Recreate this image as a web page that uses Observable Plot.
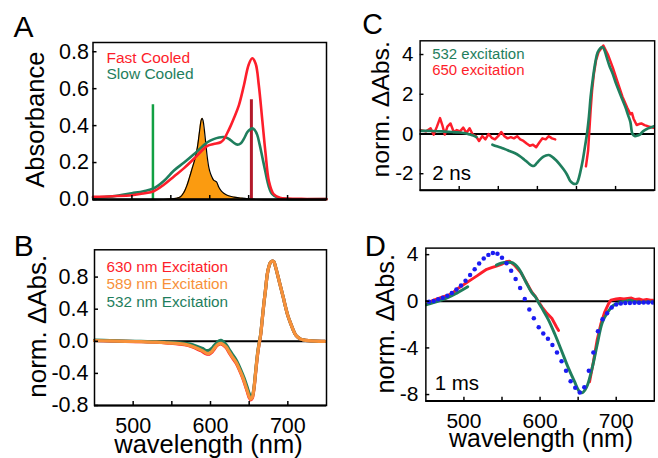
<!DOCTYPE html>
<html>
<head>
<meta charset="utf-8">
<script src="https://cdn.jsdelivr.net/npm/d3@7"></script>
<script src="https://cdn.jsdelivr.net/npm/@observablehq/plot@0.6"></script>
<style>
html,body{margin:0;padding:0;background:#fff;overflow:hidden;width:658px;height:458px;}
#wrap{position:relative;width:658px;height:458px;overflow:hidden;background:#fff;}
.panel{position:absolute;}
</style>
</head>
<body>
<div id="wrap"></div>
<script>
// ---------- data ----------
const xDomain = [450, 750];
const xTickLabels = [500, 600, 700];
const xMinorTicks = [500, 550, 600, 650, 700];

// Panel A
const fastWl  = [450,475,500,515,528,541,554,567,580,590,597,605,614,618,622.5,627,631,637.4,644,650,654.6,659,663,667.5,671.7,676,682,690,700,725,750];
const fastAbs = [0.015,0.018,0.023,0.033,0.045,0.08,0.125,0.17,0.222,0.265,0.29,0.3,0.31,0.325,0.36,0.4,0.44,0.51,0.62,0.73,0.765,0.735,0.62,0.43,0.25,0.10,0.03,0.01,0.005,0.003,0.002];
const slowWl  = [450,475,500,515,528,541,554,567,580,590,597,605,612,618,624,630,635.6,640,644,648.4,652,655,658,661,664,667.5,671,674,677,680,687,700,750];
const slowAbs = [0.01,0.017,0.034,0.045,0.06,0.1,0.157,0.2,0.246,0.285,0.31,0.327,0.336,0.338,0.33,0.31,0.297,0.305,0.33,0.365,0.38,0.385,0.375,0.35,0.3,0.23,0.16,0.1,0.055,0.03,0.01,0.003,0.002];
const emissionWl = [450,540,550,556,562.5,567,571,574,577.5,581,584,586,587.5,589,590.3,591.5,593,595,596.8,599,601,605,608.7,611.7,615,618,624,631,640,648,655,660,750];
const emission   = [0,0,0.003,0.006,0.015,0.04,0.08,0.12,0.17,0.22,0.28,0.34,0.39,0.43,0.44,0.425,0.38,0.3,0.23,0.17,0.14,0.105,0.095,0.066,0.045,0.034,0.02,0.013,0.008,0.004,0.002,0,0];
const laserWl = [527, 653.5];
const laserHeight = [0.513, 0.54];
const legendA = ["Fast Cooled", "Slow Cooled"];

// Panel B
const bWl  = [450,470,490,510,530,545,560,570,577,585.6,590,594,598.5,602,605,608,611,613.5,615.7,620,624,628,633,637,641.4,645,648,650,652,654,656,658,660.6,662.5,664.8,667,669,671,673.5,675.5,677.7,680,682,684,687,690.6,694,697,700,703.5,707,710,713,716,720,727,735,748];
const b630 = [0.01,0.005,0.0,-0.005,-0.012,-0.022,-0.035,-0.05,-0.072,-0.11,-0.13,-0.155,-0.16,-0.135,-0.095,-0.058,-0.038,-0.032,-0.042,-0.078,-0.14,-0.2,-0.27,-0.35,-0.45,-0.55,-0.64,-0.7,-0.73,-0.71,-0.61,-0.43,-0.19,-0.055,0.075,0.28,0.47,0.63,0.84,0.93,0.985,1.0,0.99,0.93,0.82,0.68,0.55,0.43,0.32,0.226,0.14,0.08,0.05,0.03,0.018,0.008,0.003,0.0];
const b589 = [0.01,0.005,0.0,-0.005,-0.01,-0.02,-0.03,-0.045,-0.065,-0.1,-0.12,-0.145,-0.15,-0.125,-0.085,-0.05,-0.03,-0.025,-0.035,-0.07,-0.13,-0.19,-0.26,-0.34,-0.44,-0.54,-0.63,-0.69,-0.72,-0.7,-0.6,-0.42,-0.18,-0.05,0.08,0.28,0.47,0.63,0.84,0.93,0.985,1.0,0.99,0.93,0.82,0.68,0.55,0.43,0.32,0.226,0.14,0.08,0.05,0.03,0.018,0.008,0.003,0.0];
const b532 = [0.015,0.008,0.003,-0.002,-0.006,-0.012,-0.02,-0.03,-0.045,-0.075,-0.09,-0.115,-0.11,-0.085,-0.05,-0.02,0.005,0.012,0.0,-0.04,-0.1,-0.16,-0.23,-0.31,-0.41,-0.5,-0.59,-0.65,-0.69,-0.68,-0.59,-0.41,-0.17,-0.04,0.085,0.285,0.47,0.63,0.84,0.93,0.985,1.0,0.99,0.93,0.82,0.68,0.55,0.43,0.32,0.226,0.14,0.08,0.05,0.03,0.018,0.008,0.003,0.0];
const legendB = ["630 nm Excitation", "589 nm Excitation", "532 nm Excitation"];

// Panel C
const c532Wl = [451,464,478,490,498,506,514,518,522,530,542.5,548,554.6,562,570.8,577,583,588,593.1,596,599.2,603,607.3,611,614.6,619,623.6,628,633.7,638,641.8,645,647.1,650,652,655,658.1,661,663.4,666,668.2,671,674.3,677,680.4,683.6,686,688.4,692,696.6,700,704.7,708,712.8,716,718.9,721.7,724.9,728,731,735.1,740,750];
const c532   = [0.16,0.15,0.13,0.1,0.08,0.05,-0.03,-0.08,-0.16,NaN,-0.54,-0.62,-0.70,-0.82,-0.96,-1.1,-1.28,-1.45,-1.6,-1.6,-1.47,-1.3,-1.15,-1.08,-1.06,-1.15,-1.31,-1.5,-1.79,-2.05,-2.35,-2.47,-2.51,-2.5,-2.35,-1.9,-1.31,-0.6,0,0.9,1.9,2.8,3.65,4.1,4.32,4.37,4.2,3.89,3.45,3.0,2.6,2.13,1.8,1.33,0.95,0.61,0.0,-0.11,-0.08,-0.03,0.13,0.25,0.4];
const c650Wl = [450,457.3,463.4,467.4,471.5,475.5,478.4,481.6,484.9,488.9,493.0,497.0,501.1,505.2,509.2,513.3,517.3,521.4,525.4,529.5,533.5,537.6,541.6,545.7,549.8,553.8,557.9,561.9,566.0,570.0,574.1,578.1,582.2,586.3,590.3,594.4,598.4,602.5,606.5,610.6,614.6,618.7,622.8,640,662.1,664.9,668.2,670,672.2,675,678.3,684.4,690.5,696.6,702.6,708.7,714.8,718.9,721,723,727,730,733,737,742,750];
const c650   = [0.2,0.13,0.29,-0.03,0.37,0.8,0.45,-0.03,0.37,0.53,0.1,0.2,0.13,0.32,0.05,0.29,-0.03,-0.11,-0.35,-0.11,-0.27,0,-0.19,-0.27,-0.11,0.1,-0.11,-0.22,-0.16,-0.22,-0.11,-0.27,-0.35,-0.48,-0.59,-0.54,-0.67,-0.43,-0.22,-0.27,-0.11,-0.22,-0.27,NaN,-1.63,-0.83,1.25,2.2,3.0,3.7,4.13,4.45,3.97,3.33,2.61,1.89,1.33,1.0,1.05,0.77,0.45,0.5,0.53,0.45,0.38,0.3];
const legendC = ["532 excitation", "650 excitation"];
const noteC = "2 ns";

// Panel D
const dBlueWl = [454.2,460.3,466.2,472.2,478.2,484.1,490.1,496.2,502.1,508.1,514.1,520,526,532.1,538,544,550,555.9,562,567.9,573.8,579.9,585.9,591.8,598.2,604.2,610.3,616.2,622.2,628.2,634.1,640.1,646.2,652.1,658.1,664,670,676,682,688,694,700,706,712,718,724,730,736,742,748];
const dBlue   = [-0.05,0.03,0.17,0.31,0.48,0.70,1.01,1.35,1.77,2.25,2.75,3.23,3.67,3.98,4.15,4.07,3.73,3.26,2.61,1.91,1.13,0.20,-0.70,-1.46,-2.23,-2.77,-3.21,-3.74,-4.39,-5.14,-5.95,-6.85,-7.41,-7.83,-7.38,-5.95,-4.39,-2.57,-1.54,-1.03,-0.53,-0.28,-0.19,-0.14,-0.14,-0.12,-0.12,-0.10,-0.10,-0.10];
const dGreenWl = [450,460,470,480,490,500,505,520,542.7,550,557,564,572,581,589,594,598,602.6,611,619.6,628.2,636.7,645.3,651.7,655.9,659,662.3,668.7,675.1,681.5,687.9,696.5,705,712,718,724,730.7,743.6,750];
const dGreen   = [-0.3,-0.12,0.1,0.35,0.68,1.05,1.25,NaN,3.1,3.3,3.35,3.3,2.8,1.7,0.75,0.37,-0.1,-0.61,-1.59,-2.85,-4.24,-5.65,-6.9,-7.74,-7.83,-7.6,-7.18,-5.65,-3.69,-1.87,-1.03,-0.34,-0.11,0.0,0.1,-0.02,-0.08,-0.05,-0.05];
const dRedWl = [452.9,459.4,465.8,472.2,478.6,485,491.4,497.8,504.2,510.6,517.1,523.5,529.9,536.3,542.7,549.1,555.5,559.8,566.2,574.7,581,589,594,598,602.6,609,615.4,621.8,624.3,640,665,670,675,680,685,690,693,700,705,710,715,720,725,730,735,740,745,750];
const dRed   = [-0.13,0.08,0.23,0.37,0.5,0.7,1.07,1.34,1.63,1.9,2.18,2.47,2.74,2.89,3.02,3.16,3.39,3.44,3.1,2.47,1.75,0.8,0.4,-0.05,-0.5,-1.03,-1.45,-2.23,-2.5,NaN,-6.9,-5.2,-3.3,-1.9,-0.9,-0.2,0.1,0.2,0.25,0.2,0.25,0.28,0.15,0.2,0.1,0.15,0.1,0.1];
const noteD = "1 ms";

const panelLetters = ["A", "B", "C", "D"];
const yTitles = ["Absorbance", "norm. \u0394Abs."];
const xTitle = "wavelength (nm)";

// ---------- styles ----------
const FONT = "'Liberation Sans', Arial, Helvetica, sans-serif";
const RED = "#fd1e2b", TEAL = "#1f7e5d", ORANGE = "#f7913a", FILLORANGE = "#fb9b10",
      LASERGREEN = "#12a043", DARKRED = "#b31a2b", BLUE = "#1b1bf2";
const TICKFONT = 21.5;

const rows = (w, v) => w.map((x, i) => ({w: x, v: v[i]}));

function panel(cfg) {
  const {left, top, width, height, ml, mr, mt, mb, yDomain, yTicks, yFmt, yPad,
         xLabels, xPad, letter, letterPos, ytitle, ytitleX, ytitleDy, ytitleSize,
         xtitleDx, texts, data, zero, axisW} = cfg;
  const plotW = width - ml - mr, plotH = height - mt - mb;
  const [y0, y1] = yDomain;
  const ty = (y1 - y0) * 4 / plotH;
  const tx = (xDomain[1] - xDomain[0]) * 4 / plotW;
  const marks = [];
  if (zero) marks.push(Plot.ruleY([0], {stroke: "#000", strokeWidth: 2}));
  marks.push(...data);
  marks.push(Plot.frame({stroke: "#000", strokeWidth: 1.5}));
  marks.push(Plot.ruleY([y0], {stroke: "#000", strokeWidth: axisW}));
  marks.push(Plot.ruleX(xMinorTicks, {x: d => d, y1: y0, y2: y0 + ty, stroke: "#000", strokeWidth: 1.5}));
  marks.push(Plot.ruleY(yTicks, {y: d => d, x1: xDomain[0], x2: xDomain[0] + tx, stroke: "#000", strokeWidth: 1.5}));
  marks.push(Plot.axisY({ticks: yTicks, tickSize: 0, tickPadding: yPad, tickFormat: yFmt,
                         fontSize: TICKFONT, fontFamily: FONT, label: null, fill: "#000"}));
  if (xLabels) {
    marks.push(Plot.axisX({ticks: xTickLabels, tickSize: 0, tickPadding: xPad, tickFormat: d => String(d),
                           fontSize: TICKFONT, fontFamily: FONT, label: null, fill: "#000"}));
    marks.push(Plot.text([xTitle], {text: d => d, frameAnchor: "bottom", dx: xtitleDx, dy: 47.5,
                                    lineAnchor: "bottom", fontSize: 25.5, fontFamily: FONT, fill: "#000"}));
  }
  marks.push(Plot.text([letter], {text: d => d, frameAnchor: "top-left", dx: letterPos[0] - ml, dy: letterPos[1] - mt,
                                  textAnchor: "start", lineAnchor: "bottom", fontSize: 30, fontFamily: FONT, fill: "#000"}));
  marks.push(Plot.text([ytitle], {text: d => d, frameAnchor: "left", rotate: -90, dx: ytitleX - ml, dy: ytitleDy,
                                  textAnchor: "middle", lineAnchor: "bottom", fontSize: ytitleSize, fontFamily: FONT, fill: "#000"}));
  for (const t of texts) {
    marks.push(Plot.text([t.label], {text: d => d, frameAnchor: "top-left", dx: t.x - ml, dy: t.y - mt,
                                     textAnchor: "start", lineAnchor: "bottom", fontSize: t.size, fontFamily: FONT, fill: t.color}));
  }
  const svg = Plot.plot({
    width, height, marginLeft: ml, marginRight: mr, marginTop: mt, marginBottom: mb,
    x: {domain: xDomain, axis: null},
    y: {domain: yDomain, axis: null},
    style: {fontFamily: FONT, background: "transparent", overflow: "visible", color: "#000"},
    marks
  });
  const div = document.createElement("div");
  div.className = "panel";
  div.style.left = left + "px";
  div.style.top = top + "px";
  div.appendChild(svg);
  document.getElementById("wrap").appendChild(div);
}

const f1 = d => d.toFixed(1);
const f0 = d => String(d);

// Panel A
panel({
  left: 0, top: 0, width: 330, height: 220, ml: 92.5, mr: 4, mt: 42, mb: 21,
  yDomain: [0, 0.85], yTicks: [0, 0.2, 0.4, 0.6, 0.8], yFmt: f1, yPad: 4,
  xLabels: false, letter: panelLetters[0], letterPos: [13, 36.7],
  ytitle: yTitles[0], ytitleX: 43, ytitleDy: -1.3, ytitleSize: 25.5, axisW: 2.5, zero: false,
  texts: [
    {label: legendA[0], x: 106, y: 62, size: 15.5, color: RED},
    {label: legendA[1], x: 106, y: 78.5, size: 15.5, color: TEAL}
  ],
  data: [
    Plot.areaY(rows(emissionWl, emission), {x: "w", y: "v", fill: FILLORANGE, curve: "catmull-rom"}),
    Plot.lineY(rows(emissionWl, emission), {x: "w", y: "v", stroke: "#000", strokeWidth: 1.2, curve: "catmull-rom"}),
    Plot.ruleX(rows(laserWl.slice(0,1), laserHeight.slice(0,1)), {x: "w", y1: 0, y2: "v", stroke: LASERGREEN, strokeWidth: 2.5}),
    Plot.ruleX(rows(laserWl.slice(1), laserHeight.slice(1)), {x: "w", y1: 0, y2: "v", stroke: DARKRED, strokeWidth: 3}),
    Plot.lineY(rows(slowWl, slowAbs), {x: "w", y: "v", stroke: TEAL, strokeWidth: 2.6, curve: "catmull-rom"}),
    Plot.lineY(rows(fastWl, fastAbs), {x: "w", y: "v", stroke: RED, strokeWidth: 2.6, curve: "catmull-rom"})
  ]
});

// Panel B
panel({
  left: 0, top: 220, width: 330, height: 238, ml: 94, mr: 4, mt: 29.3, mb: 53,
  yDomain: [-0.8, 1.14], yTicks: [-0.8, -0.4, 0, 0.4, 0.8], yFmt: f1, yPad: 6,
  xLabels: true, xPad: 12, xtitleDx: -2, letter: panelLetters[1], letterPos: [13.3, 35],
  ytitle: yTitles[1], ytitleX: 45, ytitleDy: -1.4, ytitleSize: 26, axisW: 2, zero: true,
  texts: [
    {label: legendB[0], x: 106, y: 51.7, size: 15.3, color: RED},
    {label: legendB[1], x: 106, y: 68.3, size: 15.3, color: ORANGE},
    {label: legendB[2], x: 106, y: 86, size: 15.3, color: TEAL}
  ],
  data: [
    Plot.lineY(rows(bWl, b630), {x: "w", y: "v", stroke: RED, strokeWidth: 3.2, curve: "catmull-rom"}),
    Plot.lineY(rows(bWl, b532), {x: "w", y: "v", stroke: TEAL, strokeWidth: 3.2, curve: "catmull-rom"}),
    Plot.lineY(rows(bWl, b589), {x: "w", y: "v", stroke: ORANGE, strokeWidth: 3.2, curve: "catmull-rom"})
  ]
});

// Panel C
panel({
  left: 330, top: 0, width: 344, height: 220, ml: 94, mr: 4, mt: 42.3, mb: 21,
  yDomain: [-2.83, 4.69], yTicks: [-2, 0, 2, 4], yFmt: f0, yPad: 7,
  xLabels: false, letter: panelLetters[2], letterPos: [33.3, 35],
  ytitle: yTitles[1], ytitleX: 61.7, ytitleDy: -6.5, ytitleSize: 26, axisW: 2, zero: true,
  texts: [
    {label: legendC[0], x: 106.7, y: 61.7, size: 15.7, color: TEAL},
    {label: legendC[1], x: 106.7, y: 78.3, size: 15.7, color: RED},
    {label: noteC, x: 106.7, y: 188, size: 21.5, color: "#000"}
  ],
  data: [
    Plot.lineY(rows(c650Wl, c650), {x: "w", y: "v", stroke: RED, strokeWidth: 2.6, clip: true}),
    Plot.lineY(rows(c532Wl, c532), {x: "w", y: "v", stroke: TEAL, strokeWidth: 2.8, curve: "catmull-rom", clip: true})
  ]
});

// Panel D
panel({
  left: 330, top: 220, width: 336, height: 238, ml: 97.7, mr: 4.3, mt: 28.3, mb: 53,
  yDomain: [-8.56, 4.56], yTicks: [-8, -4, 0, 4], yFmt: f0, yPad: 7.7,
  xLabels: true, xPad: 12, xtitleDx: 1, letter: panelLetters[3], letterPos: [35, 36.7],
  ytitle: yTitles[1], ytitleX: 65, ytitleDy: -0.9, ytitleSize: 26, axisW: 2, zero: true,
  texts: [
    {label: noteD, x: 106.7, y: 173.3, size: 21, color: "#000"}
  ],
  data: [
    Plot.lineY(rows(dRedWl, dRed), {x: "w", y: "v", stroke: RED, strokeWidth: 3, clip: true}),
    Plot.lineY(rows(dGreenWl, dGreen), {x: "w", y: "v", stroke: TEAL, strokeWidth: 3, curve: "catmull-rom", clip: true}),
    Plot.dot(rows(dBlueWl, dBlue), {x: "w", y: "v", r: 2.3, fill: BLUE, stroke: "none", clip: true})
  ]
});
</script>
</body>
</html>
